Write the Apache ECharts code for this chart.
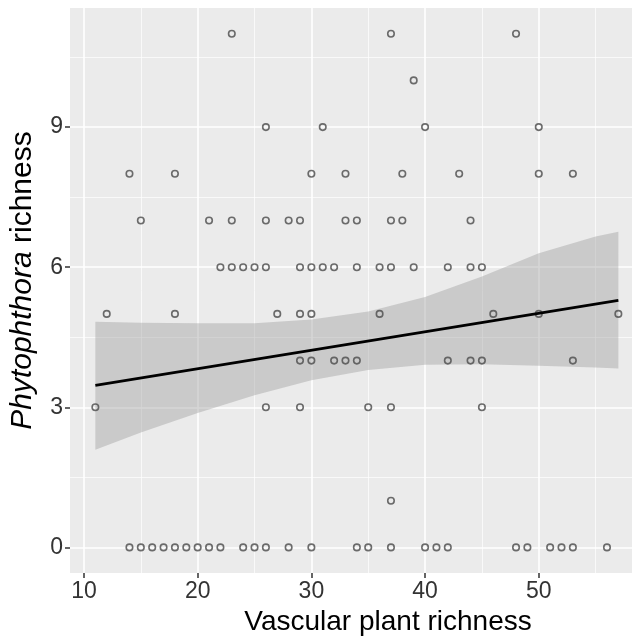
<!DOCTYPE html>
<html lang="en">
<head>
    <meta charset="UTF-8">
    <title>phytophthora vs plant richness</title>
    <script src="https://cdn.jsdelivr.net/npm/echarts@6/dist/echarts.min.js"></script>
    <style type="text/css">
        body {
            margin: 0;
            padding: 0;
            background-color: #fff;
        }

        #chart {
            width: 632px;
            height: 641px;
        }
    </style>
</head>
<body>
<div id="chart"></div>

<script>
    // Phytophthora richness levels, and the plant richness of every site at that level
    const phytoLevels = [0, 1, 3, 4, 5, 6, 7, 8, 9, 10, 11];
    const plantRichness = [
        [14, 15, 16, 17, 18, 19, 20, 21, 22, 24, 25, 26, 28, 30, 34, 35, 37, 40, 41, 42, 48, 49, 51, 52, 53, 56],
        [37],
        [11, 26, 29, 35, 37, 45],
        [29, 30, 32, 33, 34, 42, 44, 45, 53],
        [12, 18, 27, 29, 30, 36, 46, 50, 57],
        [22, 23, 24, 25, 26, 29, 30, 31, 32, 34, 36, 37, 39, 42, 44, 45],
        [15, 21, 23, 26, 28, 29, 33, 34, 37, 38, 44],
        [14, 18, 30, 33, 38, 43, 50, 53],
        [26, 31, 40, 50],
        [39],
        [23, 37, 48]
    ];

    // fitted line and its confidence band
    const fitX = [11, 57];
    const fitY = [3.47, 5.29];
    const bandX = [11, 15, 20, 25, 30, 35, 40, 45, 50, 55, 57];
    const bandLow = [2.09, 2.46, 2.88, 3.26, 3.58, 3.80, 3.91, 3.92, 3.89, 3.85, 3.83];
    const bandHigh = [4.83, 4.81, 4.80, 4.80, 4.88, 5.05, 5.36, 5.80, 6.30, 6.66, 6.76];

    const xMajor = [10, 20, 30, 40, 50];
    const xMinor = [15, 25, 35, 45, 55];
    const yMajor = [0, 3, 6, 9];
    const yMinor = [1.5, 4.5, 7.5, 10.5];

    const font = "'Liberation Sans', Arial, sans-serif";

    let points = [];
    phytoLevels.forEach((lvl, i) => {
        plantRichness[i].forEach(p => points.push([p, lvl]));
    });

    const fitData = fitX.map((x, i) => [x, fitY[i]]);
    const bandData = bandX.map((x, i) => [x, bandLow[i], bandHigh[i]]);

    const chart = echarts.init(document.getElementById('chart'));

    const xRange = {min: 8.77, max: 58.2};
    const yRange = {min: -0.55, max: 11.55};

    chart.setOption({
        animation: false,
        grid: {
            left: 68,
            right: 0,
            top: 8,
            bottom: 59,
            show: true,
            backgroundColor: '#EBEBEB',
            borderWidth: 0
        },
        xAxis: [
            {
                type: 'value',
                min: xRange.min,
                max: xRange.max,
                axisLine: {show: false, onZero: false},
                axisTick: {
                    customValues: xMajor,
                    length: 5,
                    lineStyle: {color: '#333', width: 1.5}
                },
                axisLabel: {
                    customValues: xMajor,
                    fontSize: 23,
                    color: '#333',
                    fontFamily: font,
                    margin: 7
                },
                splitLine: {lineStyle: {color: '#fff', width: 1.6}},
                name: 'Vascular plant richness',
                nameLocation: 'middle',
                nameGap: 26,
                nameTextStyle: {
                    fontSize: 28,
                    color: '#000',
                    fontFamily: font,
                    padding: [0, 0, 0, 74]
                }
            },
            {
                type: 'value',
                min: xRange.min,
                max: xRange.max,
                position: 'bottom',
                axisLine: {show: false, onZero: false},
                axisTick: {show: false, customValues: xMinor},
                axisLabel: {show: false, customValues: xMinor},
                splitLine: {lineStyle: {color: '#fff', width: 0.7}}
            }
        ],
        yAxis: [
            {
                type: 'value',
                min: yRange.min,
                max: yRange.max,
                axisLine: {show: false, onZero: false},
                axisTick: {
                    show: true,
                    customValues: yMajor,
                    length: 5,
                    lineStyle: {color: '#333', width: 1.5}
                },
                axisLabel: {
                    customValues: yMajor,
                    fontSize: 23,
                    color: '#333',
                    fontFamily: font,
                    margin: 7
                },
                splitLine: {lineStyle: {color: '#fff', width: 1.6}},
                name: '{i|Phytophthora} richness',
                nameLocation: 'middle',
                nameGap: 32,
                nameTextStyle: {
                    fontSize: 30,
                    color: '#000',
                    fontFamily: font,
                    padding: [0, 0, 0, 20],
                    rich: {
                        i: {fontSize: 30, color: '#000', fontFamily: font, fontStyle: 'italic'}
                    }
                }
            },
            {
                type: 'value',
                min: yRange.min,
                max: yRange.max,
                position: 'left',
                axisLine: {show: false, onZero: false},
                axisTick: {show: false, customValues: yMinor},
                axisLabel: {show: false, customValues: yMinor},
                splitLine: {lineStyle: {color: '#fff', width: 0.7}}
            }
        ],
        series: [
            {
                type: 'scatter',
                data: points,
                symbol: 'circle',
                symbolSize: 6.5,
                itemStyle: {
                    color: 'rgba(0,0,0,0)',
                    borderColor: '#4a4a4a',
                    borderWidth: 1.6
                }
            },
            {
                type: 'custom',
                data: bandData,
                renderItem: function (params, api) {
                    if (params.dataIndex !== 0) return;
                    let upper = bandData.map(d => api.coord([d[0], d[2]]));
                    let lower = bandData.slice().reverse().map(d => api.coord([d[0], d[1]]));
                    return {
                        type: 'polygon',
                        shape: {points: upper.concat(lower)},
                        style: {fill: 'rgba(153,153,153,0.4)'}
                    };
                },
                silent: true
            },
            {
                type: 'line',
                data: fitData,
                showSymbol: false,
                lineStyle: {color: '#000', width: 2.6}
            }
        ]
    });
</script>
</body>
</html>
